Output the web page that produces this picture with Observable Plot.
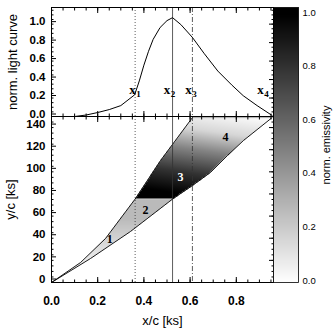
<!DOCTYPE html>
<html><head><meta charset="utf-8">
<script src="https://cdn.jsdelivr.net/npm/d3@7"></script>
<script src="https://cdn.jsdelivr.net/npm/@observablehq/plot@0.6"></script>
<style>
body{margin:0;background:#fff;}
#fig{position:relative;width:333px;height:333px;overflow:hidden;font-family:"Liberation Sans",Arial,sans-serif;}
#fig svg{position:absolute;left:0;top:0;}
</style></head><body><div id="fig"></div>
<script>
// ---- data ----
// normalized light curve
const lcX = [0, 0.10, 0.15, 0.20, 0.25, 0.30, 0.36, 0.38, 0.40, 0.42, 0.44, 0.47, 0.50, 0.524, 0.56, 0.61, 0.66, 0.72, 0.78, 0.83, 0.89, 0.955];
const lcY = [0, 0, 0.016, 0.043, 0.075, 0.118, 0.235, 0.385, 0.556, 0.706, 0.835, 0.963, 1.038, 1.07, 0.995, 0.856, 0.685, 0.492, 0.342, 0.225, 0.118, 0.011];
// characteristic times
const markX = [0.362, 0.524, 0.61];
const markStyle = ["1,2", null, "5,2,1,2"];
const markLabelX = [0.351, 0.50, 0.593, 0.905];
const markLabelY = [0.29, 0.29, 0.29, 0.29];
const markLabelSub = ["1", "2", "3", "4"];
// region boundaries (x/c, y/c)
const upperX = [0, 0.126, 0.234, 0.362, 0.472, 0.61];
const upperY = [0, 18.1, 39.8, 75.4, 110.2, 149];
const lowerX = [0, 0.169, 0.342, 0.524, 0.61, 0.688, 0.762, 0.831, 0.955];
const lowerY = [0, 21.7, 46.1, 75.4, 87.6, 99.4, 114.8, 128.3, 149];
const flareY = 75.4;
const topY = 149;
// emissivity read-off (rising part: by y; decaying part: by distance past flare front)
const riseStopY = [0, 30, 58, 75.4];
const riseStopE = [0, 0.12, 0.27, 0.27];
const decayStopS = [-10, 6, 26, 48, 66, 84];
const decayStopE = [1, 1, 0.8, 0.48, 0.16, 0.02];
const decayTilt = 30;
// region labels
const regLabel = ["1", "2", "3", "4"];
const regX = [0.252, 0.407, 0.558, 0.753];
const regY = [38.9, 65, 94.9, 131];
const regColor = ["black", "black", "white", "black"];
// ticks
const lcTicks = [0, 0.2, 0.4, 0.6, 0.8, 1.0];
const lcMinor = d3.range(0, 1.18, 0.05);
const xTicks = [0, 0.2, 0.4, 0.6, 0.8];
const xMinor = d3.range(0, 0.96, 0.05);
const yTicks = [0, 20, 40, 60, 80, 100, 120, 140];
const yMinor = d3.range(0, 150, 5);
const cbTicks = [0, 0.2, 0.4, 0.6, 0.8, 1.0];

// ---- helpers ----
const fmt = d3.format(".1f");
const none = () => "";
const xDom = [0, 0.961];
const lc = lcX.map((x, i) => ({x, y: lcY[i]}));
const upper = upperX.map((x, i) => ({x, y: upperY[i]}));
const lower = lowerX.map((x, i) => ({x, y: lowerY[i]}));
const xU = d3.scaleLinear(upperY, upperX);
const xL = d3.scaleLinear(lowerY, lowerX);
const riseE = d3.scaleLinear(riseStopY, riseStopE).clamp(true);
const decayE = d3.scaleLinear(decayStopS, decayStopE).clamp(true);
function emissivity(x, y) {
  if (y < 0 || y > topY) return NaN;
  if (x < xU(y) || x > xL(y)) return NaN;
  if (y < flareY) return riseE(y);
  return decayE((y - flareY) + decayTilt * (x - lowerX[3]));
}
const grayScale = {type: "linear", domain: [0, 1], range: ["#ffffff", "#000000"], clamp: true};
const baseStyle = {background: "transparent", overflow: "visible", fontFamily: "Liberation Sans, Arial, sans-serif"};

function frameAxes(xMaj, xMin, yMaj, yMin, yFmt, showX, labelDy) {
  return [
    Plot.axisX(xMaj, {anchor: "bottom", tickSize: -5, tickPadding: 18.5, tickFormat: showX ? fmt : none, fontSize: 12, fontWeight: "bold", label: null}),
    Plot.axisX(xMin, {anchor: "bottom", tickSize: -2.5, tickFormat: none, label: null}),
    Plot.axisX(xMaj, {anchor: "top", tickSize: -5, tickFormat: none, label: null}),
    Plot.axisX(xMin, {anchor: "top", tickSize: -2.5, tickFormat: none, label: null}),
    Plot.axisY(yMaj, {anchor: "left", tickSize: -5, tickPadding: 11, tickFormat: yFmt, fontSize: 11.5, fontWeight: "bold", dy: labelDy, label: null}),
    Plot.axisY(yMin, {anchor: "left", tickSize: -2.5, tickFormat: none, label: null}),
    Plot.axisY(yMaj, {anchor: "right", tickSize: -5, tickFormat: none, label: null}),
    Plot.axisY(yMin, {anchor: "right", tickSize: -2.5, tickFormat: none, label: null}),
    Plot.frame({stroke: "black", strokeWidth: 1})
  ];
}
function markRules() {
  return markX.map((x, i) => Plot.ruleX([x], {stroke: "#333", strokeWidth: 0.8, strokeDasharray: markStyle[i]}));
}
const serif = "Liberation Serif, Times New Roman, serif";

// ---- top panel: light curve ----
const topPlot = Plot.plot({
  width: 333, height: 333,
  marginLeft: 51, marginRight: 60, marginTop: 7, marginBottom: 217,
  x: {domain: xDom}, y: {domain: [0, 1.18]},
  style: baseStyle,
  marks: [
    ...markRules(),
    Plot.line(lc, {x: "x", y: "y", stroke: "black", strokeWidth: 1}),
    Plot.text(markLabelX, {x: d => d, y: (d, i) => markLabelY[i], text: () => "x", fontFamily: serif, fontWeight: "bold", fontSize: 13}),
    Plot.text(markLabelX, {x: d => d, y: (d, i) => markLabelY[i], text: (d, i) => markLabelSub[i], dx: 6, dy: 4, fontFamily: serif, fontWeight: "bold", fontSize: 9}),
    ...frameAxes(xTicks, xMinor, lcTicks, lcMinor, fmt, false, -2.5),
    Plot.text(["norm. light curve"], {text: d => d, frameAnchor: "left", dx: -39, rotate: -90, fontSize: 13, textAnchor: "middle", lineAnchor: "middle"})
  ]
});

// ---- bottom panel: emissivity map ----
const botPlot = Plot.plot({
  width: 333, height: 333,
  marginLeft: 51, marginRight: 60, marginTop: 116, marginBottom: 51,
  x: {domain: xDom}, y: {domain: [0, 150]},
  color: grayScale,
  style: baseStyle,
  marks: [
    Plot.raster({fill: emissivity, x1: xDom[0], x2: xDom[1], y1: 0, y2: 150, pixelSize: 1}),
    Plot.ruleY([flareY], {x1: upperX[3], x2: lowerX[3], stroke: "#e4e4e4", strokeWidth: 1.2}),
    Plot.ruleY([topY], {x1: upperX[5], x2: lowerX[8], stroke: "#999", strokeWidth: 0.8}),
    Plot.line(upper, {x: "x", y: "y", stroke: "black", strokeWidth: 0.9}),
    Plot.line(lower, {x: "x", y: "y", stroke: "black", strokeWidth: 0.9}),
    ...markRules(),
    Plot.text(regLabel, {x: (d, i) => regX[i], y: (d, i) => regY[i], text: d => d, fill: (d, i) => regColor[i], fontFamily: serif, fontWeight: "bold", fontSize: 12}),
    ...frameAxes(xTicks, xMinor, yTicks, yMinor, d => String(d), true, -3.5),
    Plot.text(["y/c [ks]"], {text: d => d, frameAnchor: "left", dx: -41, rotate: -90, fontSize: 13, textAnchor: "middle", lineAnchor: "middle"}),
    Plot.text(["x/c [ks]"], {text: d => d, frameAnchor: "bottom", dy: 38, fontSize: 13, textAnchor: "middle", lineAnchor: "middle"})
  ]
});

// ---- colour bar ----
const cbPlot = Plot.plot({
  width: 333, height: 333,
  marginLeft: 273, marginRight: 35, marginTop: 7, marginBottom: 51,
  x: {domain: [0, 1], axis: null}, y: {domain: [0, 1.026]},
  color: grayScale,
  style: baseStyle,
  marks: [
    Plot.raster({fill: (x, y) => y, x1: 0, x2: 1, y1: 0, y2: 1.026, pixelSize: 1}),
    Plot.axisY(cbTicks, {anchor: "right", tickSize: 0, tickPadding: 4, tickFormat: fmt, fontSize: 9.5, dy: -2, label: null}),
    Plot.frame({stroke: "black", strokeWidth: 0.8}),
    Plot.text(["norm. emissivity"], {text: d => d, frameAnchor: "right", dx: 28, rotate: -90, fontSize: 11, textAnchor: "middle", lineAnchor: "middle"})
  ]
});

const fig = document.getElementById("fig");
fig.append(botPlot, cbPlot, topPlot);
</script></body></html>
